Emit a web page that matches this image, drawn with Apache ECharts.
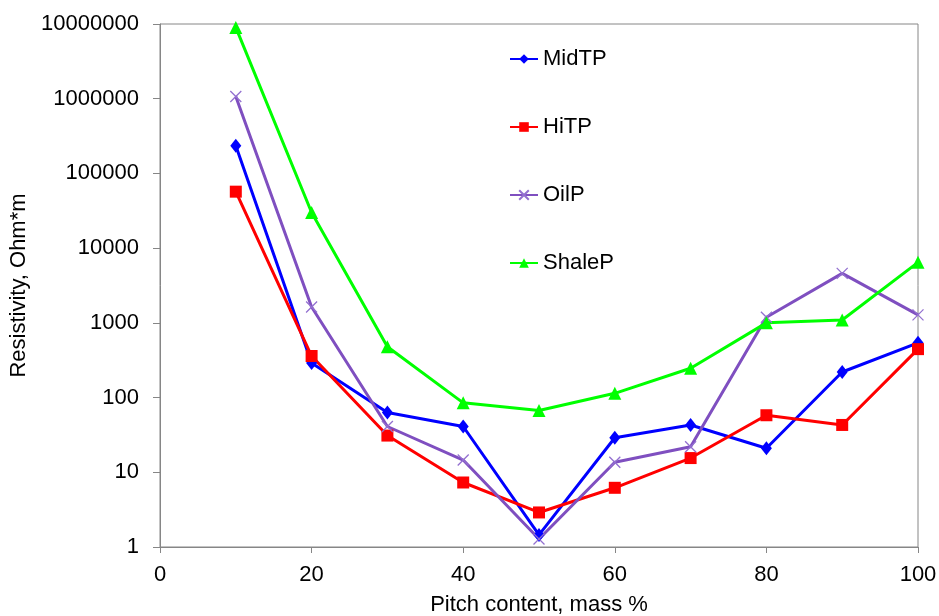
<!DOCTYPE html>
<html><head><meta charset="utf-8">
<script src="https://cdn.jsdelivr.net/npm/echarts@6/dist/echarts.min.js"></script>
<style>html,body{margin:0;padding:0;background:#fff}#c{width:939px;height:616px}</style>
</head><body><div id="c"></div>
<script>
const pitch = [10, 20, 30, 40, 50, 60, 70, 80, 90, 100];
const midTP = [234000, 290, 63, 41, 1.45, 29, 43, 21, 220, 540];
const hiTP = [57000, 360, 31, 7.3, 2.9, 6.2, 15.5, 58, 43, 445];
const oilP = [1070000, 1630, 41, 14.6, 1.28, 13.6, 22, 1190, 4600, 1280];
const shaleP = [9000000, 30000, 480, 85, 67, 114, 247, 1000, 1090, 6450];
const xTicks = [0, 20, 40, 60, 80, 100];
const yTicks = [1, 10, 100, 1000, 10000, 100000, 1000000, 10000000];

const FONT = "'Liberation Sans', Arial, sans-serif";
const AX = '#868686';
const pair = ys => pitch.map((x, i) => [x, ys[i]]);
const crossPath = 'path://M0,0L10,10M10,0L0,10';

const chart = echarts.init(document.getElementById('c'));
chart.setOption({
  animation: false,
  backgroundColor: '#fff',
  textStyle: { fontFamily: FONT },
  grid: { left: 160, right: 21, top: 24, bottom: 69, show: true, borderColor: AX, borderWidth: 1,
    containLabel: false, outerBoundsMode: 'none' },
  legend: {
    orient: 'vertical', left: 509, top: 48, padding: 0,
    itemWidth: 28, itemHeight: 12, itemGap: 46,
    textStyle: { fontSize: 22, color: '#000', fontFamily: FONT, lineHeight: 22 },
    data: ['MidTP', 'HiTP', 'OilP', 'ShaleP']
  },
  xAxis: {
    type: 'value', min: 0, max: 100, interval: 20,
    name: 'Pitch content, mass %', nameLocation: 'middle', nameGap: 47,
    nameTextStyle: { fontSize: 22, color: '#000', fontFamily: FONT },
    axisLine: { lineStyle: { color: AX, width: 1 } },
    axisTick: { show: true, length: 6, inside: false, lineStyle: { color: AX } },
    axisLabel: { fontSize: 22, color: '#000', margin: 17, fontFamily: FONT,
      customValues: xTicks },
    splitLine: { show: false }
  },
  yAxis: {
    type: 'log', logBase: 10, min: yTicks[0], max: yTicks[yTicks.length - 1],
    name: 'Resistivity, Ohm*m', nameLocation: 'middle', nameGap: 128, nameRotate: 90,
    nameTextStyle: { fontSize: 22, color: '#000', fontFamily: FONT },
    axisLine: { show: true, lineStyle: { color: AX, width: 1 } },
    axisTick: { show: true, length: 7, lineStyle: { color: AX } },
    axisLabel: { fontSize: 22, color: '#000', margin: 21, fontFamily: FONT,
      formatter: v => String(Math.round(v)) },
    splitLine: { show: false }
  },
  series: [
    { name: 'MidTP', type: 'line', data: pair(midTP), symbol: 'diamond', symbolSize: [11, 14],
      lineStyle: { color: '#0000ff', width: 3 }, itemStyle: { color: '#0000ff' } },
    { name: 'HiTP', type: 'line', data: pair(hiTP), symbol: 'rect', symbolSize: 12,
      lineStyle: { color: '#ff0000', width: 3 }, itemStyle: { color: '#ff0000' } },
    { name: 'OilP', type: 'line', data: pair(oilP), symbol: crossPath, symbolSize: 11,
      lineStyle: { color: '#7f4fc0', width: 3 },
      itemStyle: { color: 'rgba(0,0,0,0)', borderColor: '#9370d0', borderWidth: 1.3 } },
    { name: 'ShaleP', type: 'line', data: pair(shaleP), symbol: 'triangle', symbolSize: 13,
      lineStyle: { color: '#00ff00', width: 3 }, itemStyle: { color: '#00ff00' } }
  ]
});
</script></body></html>
